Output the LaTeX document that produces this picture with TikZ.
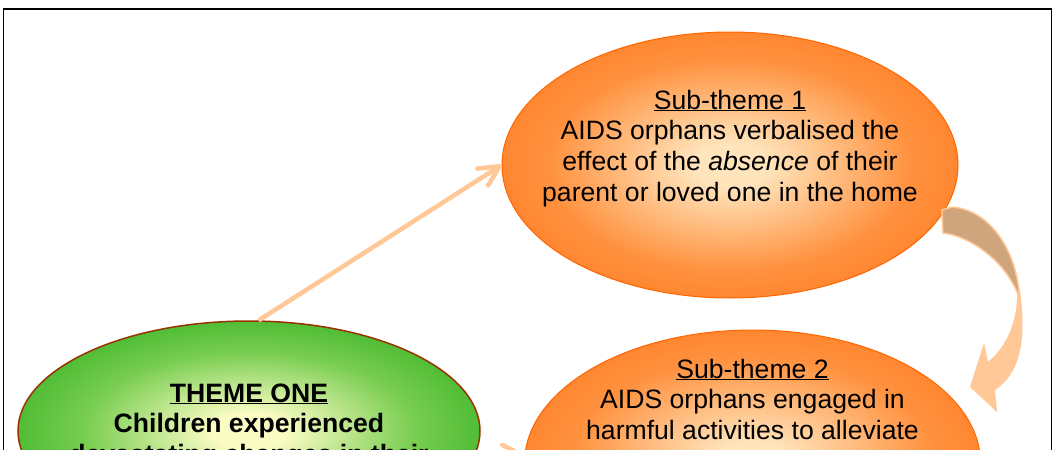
\documentclass[tikz,border=0pt]{standalone}
\usepackage{fontspec}
\setmainfont{Liberation Sans}
\usetikzlibrary{shapes.geometric,arrows.meta}

\definecolor{peach}{RGB}{255,200,150}
\definecolor{ribbonshade}{RGB}{207,165,125}
\definecolor{subpale}{RGB}{255,228,188}
\definecolor{submid}{RGB}{255,145,62}
\definecolor{subedge}{RGB}{255,118,28}
\definecolor{subline}{RGB}{255,102,0}
\definecolor{themepale}{RGB}{250,252,196}
\definecolor{thememid}{RGB}{120,205,80}
\definecolor{themeedge}{RGB}{30,168,20}
\definecolor{themeline}{RGB}{153,51,0}

% radial glows for the ellipses
\pgfdeclareradialshading{orangeglow}{\pgfpoint{0bp}{0bp}}{%
  color(0bp)=(subpale); color(4bp)=(subpale); color(20bp)=(submid);
  color(33bp)=(subedge); color(50bp)=(subedge)}
\pgfdeclareradialshading{greenglow}{\pgfpoint{0bp}{0bp}}{%
  color(0bp)=(themepale); color(4bp)=(themepale); color(18bp)=(thememid);
  color(34bp)=(themeedge); color(50bp)=(themeedge)}

\begin{document}
\begin{tikzpicture}[x=1pt,y=-1pt,
  subbubble/.style={ellipse, inner sep=0pt, minimum width=456pt, minimum height=266pt,
    shading=orangeglow, draw=subline, line width=1pt},
  themebubble/.style={ellipse, inner sep=0pt, minimum width=462pt, minimum height=220pt,
    shading=greenglow, draw=themeline, line width=1.5pt},
  label/.style={anchor=base, inner sep=0pt, font=\fontsize{26.6}{30.7}\selectfont},
  link/.style={draw=peach, line width=4.5pt,
    -{Straight Barb[length=20pt,width=20pt,round]}}]

\useasboundingbox (0,0) rectangle (1053,450);
\clip (0,0) rectangle (1053,450);
\fill[white] (0,0) rectangle (1053,450);

% outer frame
\draw[line width=1.8pt] (3.5,9) rectangle (1051.5,480);

% bubbles
\node[themebubble] (theme) at (249,431) {};
\node[subbubble] (sub1) at (730,165) {};
\node[subbubble] (sub2) at (752.5,463) {};

% texts
\node[label, font=\fontsize{26.6}{30.7}\selectfont\bfseries] (themetext) at (249,402)
  {\begin{tabular}[t]{@{}c@{}}\underline{THEME ONE}\\ Children experienced\\ devastating changes in their\end{tabular}};
\node[label] (sub1text) at (730,109)
  {\begin{tabular}[t]{@{}c@{}}\underline{Sub-theme 1}\\ AIDS orphans verbalised the\\ effect of the \textit{absence} of their\\ parent or loved one in the home\end{tabular}};
\node[label] (sub2text) at (752.5,378)
  {\begin{tabular}[t]{@{}c@{}}\underline{Sub-theme 2}\\ AIDS orphans engaged in\\ harmful activities to alleviate\end{tabular}};

% straight connectors
\draw[link] (theme.85) -- (sub1.180);
\draw[link] (theme.-6) -- (sub2.178);

% curved ribbon arrow from sub-theme 1 down to sub-theme 2
\fill[peach] (1017,290) -- (1020,290) .. controls (1025,330) and (1025,370) .. (995,390)
  -- (997,412) -- (970,387) -- (984,343) -- (988,362)
  .. controls (1008,345) and (1018,320) .. (1017,290) -- cycle;
\filldraw[fill=ribbonshade, draw=peach, line width=1.5pt, line join=round]
  (942,210) -- (943,233) .. controls (970,236) and (1008,262) .. (1020,300)
  .. controls (1017,250) and (990,210) .. (952,207) -- cycle;
\end{tikzpicture}
\end{document}
